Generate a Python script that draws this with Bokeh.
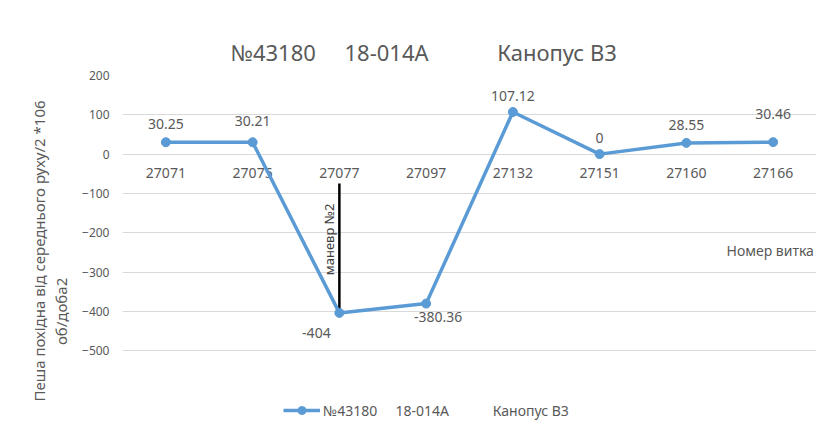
from bokeh.plotting import figure
from bokeh.models import (Range1d, ColumnDataSource, Legend, LegendItem,
                          FixedTicker)
from bokeh.core.properties import value
from bokeh.embed import file_html
from bokeh.resources import INLINE

# ---- data ----
orbits = ["27071", "27075", "27077", "27097", "27132", "27151", "27160", "27166"]
deriv = [30.25, 30.21, -404, -380.36, 107.12, 0, 28.55, 30.46]
value_labels = ["30.25", "30.21", "-404", "-380.36", "107.12", "0", "28.55", "30.46"]
y_ticks = [200, 100, 0, -100, -200, -300, -400, -500]
maneuver_orbit = "27077"
maneuver_top = -75
maneuver_bottom = -404
maneuver_text = "маневр №2"
series_name = ("№43180" + "\u00a0" * 5 + "18-014A" + "\u00a0" * 12 + "Канопус В3")
y_title_1 = "Пеша похідна від середнього руху/2 *106"
y_title_2 = "об/доба2"
x_title = "Номер витка"

# ---- layout / styles ----
FONT = "Noto Sans"
GREY = "#595959"
BLUE = "#5B9BD5"
Y_HIGH, Y_LOW = 200, -693          # frame extends below -500 to hold the legend
lbl_dx = [0, 0, -23, 12, 0, 0, 0, 0]
lbl_dy = [-18, -21, 20, 13, -16, -16, -18, -28]
maneuver_label_y = -217
x_title_y = -245
title2_pad = "\u00a0" * 31        # centres the 2nd axis-title line

xs = list(range(len(orbits)))

p = figure(width=819, height=426, output_backend="svg", toolbar_location=None,
           x_range=Range1d(-0.5, len(orbits) - 0.5), y_range=Range1d(Y_LOW, Y_HIGH),
           x_axis_location=None, min_border_left=122, min_border_right=3,
           min_border_top=75, min_border_bottom=0)
p.outline_line_color = None
p.background_fill_color = "white"
p.border_fill_color = "white"

p.title.text = series_name
p.title.align = "left"
p.title.offset = 108
p.title.standoff = 18
p.title.text_font = FONT
p.title.text_font_size = "22px"
p.title.text_font_style = "normal"
p.title.text_color = GREY

p.yaxis.ticker = FixedTicker(ticks=y_ticks)
p.yaxis.axis_line_color = None
p.yaxis.major_tick_line_color = None
p.yaxis.minor_tick_line_color = None
p.yaxis.major_tick_out = 0
p.yaxis.major_label_standoff = 13
p.yaxis.major_label_text_font = FONT
p.yaxis.major_label_text_font_size = "12px"
p.yaxis.major_label_text_color = GREY
p.yaxis.axis_label = y_title_1 + "\n" + y_title_2 + title2_pad
p.yaxis.axis_label_text_font = FONT
p.yaxis.axis_label_text_font_size = "15px"
p.yaxis.axis_label_text_font_style = "normal"
p.yaxis.axis_label_text_color = GREY
p.yaxis.axis_label_text_line_height = 1.1
p.yaxis.axis_label_standoff = 8
p.ygrid.grid_line_color = "#d9d9d9"
p.ygrid.ticker = FixedTicker(ticks=y_ticks)
p.xgrid.grid_line_color = None

src = ColumnDataSource(dict(x=xs, y=deriv, lab=value_labels, dx=lbl_dx, dy=lbl_dy,
                            cat=orbits, zero=[0] * len(orbits)))

# category labels along the zero line
p.text(x="x", y="zero", text="cat", source=src, text_align="center",
       text_baseline="middle", y_offset=19, text_font=value(FONT),
       text_font_size="14px", text_color=GREY)

# maneuver marker
mx = orbits.index(maneuver_orbit)
p.segment(x0=[mx], y0=[maneuver_top], x1=[mx], y1=[maneuver_bottom],
          line_color="black", line_width=2.5)
p.text(x=[mx], y=[maneuver_label_y], text=[maneuver_text],
       angle=1.5708, x_offset=-10, text_align="center", text_baseline="middle",
       text_font=value(FONT), text_font_size="13px", text_color="#404040")

line = p.line("x", "y", source=src, line_color=BLUE, line_width=3.5)
pts = p.scatter("x", "y", source=src, size=9, marker="circle",
                fill_color=BLUE, line_color=BLUE)

p.text(x="x", y="y", text="lab", source=src, x_offset="dx", y_offset="dy",
       text_align="center", text_baseline="middle", text_font=value(FONT),
       text_font_size="14px", text_color=GREY)

p.text(x=[len(orbits) - 0.53], y=[x_title_y], text=[x_title], text_align="right",
       text_baseline="middle", text_font=value(FONT), text_font_size="14px",
       text_color=GREY)

legend = Legend(items=[LegendItem(label=series_name, renderers=[line, pts])],
                location=(161, 6), orientation="horizontal",
                border_line_color=None, background_fill_alpha=0,
                padding=0, margin=0, label_standoff=3,
                label_text_font=FONT, label_text_font_size="14px",
                label_text_color=GREY, glyph_width=37)
p.add_layout(legend)

open("out.html", "w").write(file_html(p, INLINE))
